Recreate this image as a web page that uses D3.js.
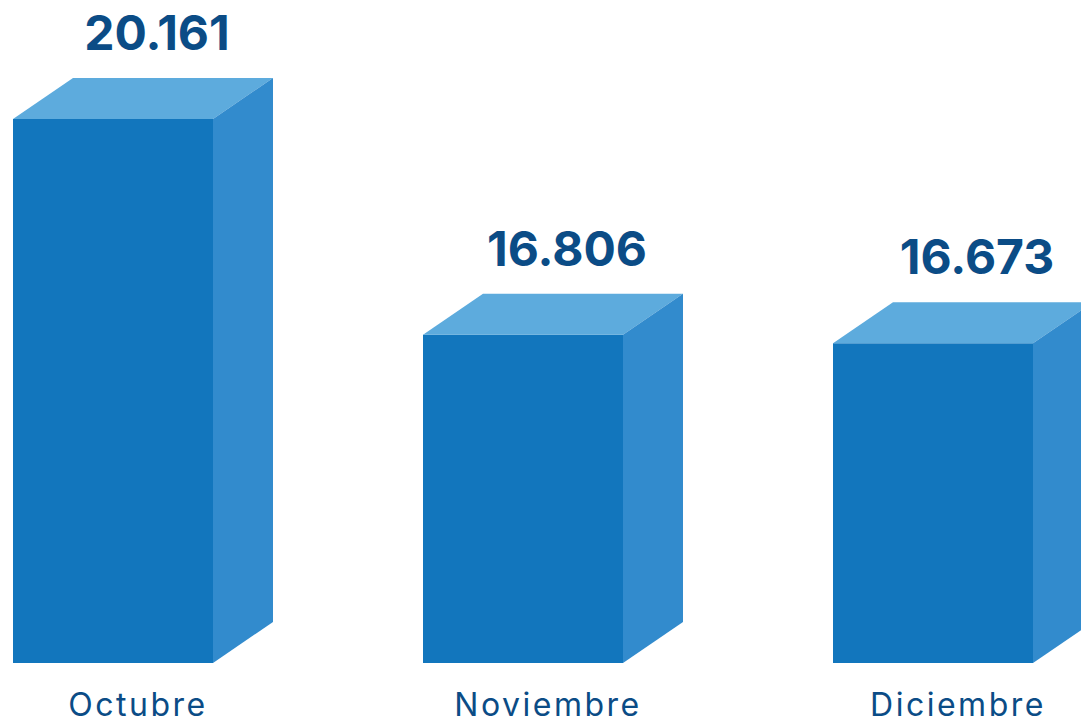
<!DOCTYPE html>
<html>
<head>
<meta charset="utf-8">
<script src="https://cdn.jsdelivr.net/npm/d3@7"></script>
<style>
  html, body { margin: 0; padding: 0; background: #ffffff; }
  svg { display: block; }
</style>
</head>
<body>
<svg id="chart" width="1081" height="726"></svg>
<script>
// ---- data ----
const categories = ["Octubre", "Noviembre", "Diciembre"];
const values = [20161, 16806, 16673];
const valueLabels = ["20.161", "16.806", "16.673"];

// ---- layout ----
const baseY = 663, topY = 119;
const depthX = 60, depthY = 41;
const colors = { front: "#1276bd", top: "#5dabdd", side: "#328bcd", text: "#0b4c86" };

const svg = d3.select("#chart");

const x = d3.scaleBand()
  .domain(categories)
  .range([13, 1033])
  .paddingInner(210 / 410)
  .paddingOuter(0);

const y = d3.scaleLinear()
  .domain([11700, d3.max(values)])
  .range([baseY, topY]);

const data = categories.map((c, i) => ({ cat: c, value: values[i], label: valueLabels[i] }));

const g = svg.append("g");
const bars = g.selectAll("g.bar").data(data).join("g").attr("class", "bar");

// front face
bars.append("rect")
  .attr("x", d => x(d.cat))
  .attr("y", d => y(d.value))
  .attr("width", x.bandwidth())
  .attr("height", d => baseY - y(d.value))
  .attr("fill", colors.front);

// top face
bars.append("path")
  .attr("d", d => {
    const x0 = x(d.cat), x1 = x0 + x.bandwidth(), yt = y(d.value);
    return `M${x0},${yt}L${x1},${yt}L${x1 + depthX},${yt - depthY}L${x0 + depthX},${yt - depthY}Z`;
  })
  .attr("fill", colors.top);

// side face
bars.append("path")
  .attr("d", d => {
    const x1 = x(d.cat) + x.bandwidth(), yt = y(d.value);
    return `M${x1},${yt}L${x1 + depthX},${yt - depthY}L${x1 + depthX},${baseY - depthY}L${x1},${baseY}Z`;
  })
  .attr("fill", colors.side);

// value labels
bars.append("text")
  .attr("x", d => x(d.cat) + x.bandwidth() / 2 + 44)
  .attr("y", d => y(d.value) - depthY - 28)
  .attr("text-anchor", "middle")
  .attr("font-family", "Inter, 'Noto Sans', sans-serif")
  .attr("font-weight", 700)
  .attr("font-size", 48)
  .attr("fill", colors.text)
  .text(d => d.label);

// category labels
bars.append("text")
  .attr("x", d => x(d.cat) + x.bandwidth() / 2 + 25)
  .attr("y", 716)
  .attr("text-anchor", "middle")
  .attr("font-family", "Inter, 'Noto Sans', sans-serif")
  .attr("font-weight", 400)
  .attr("font-size", 32)
  .attr("letter-spacing", 2.5)
  .attr("fill", colors.text)
  .text(d => d.cat);
</script>
</body>
</html>
